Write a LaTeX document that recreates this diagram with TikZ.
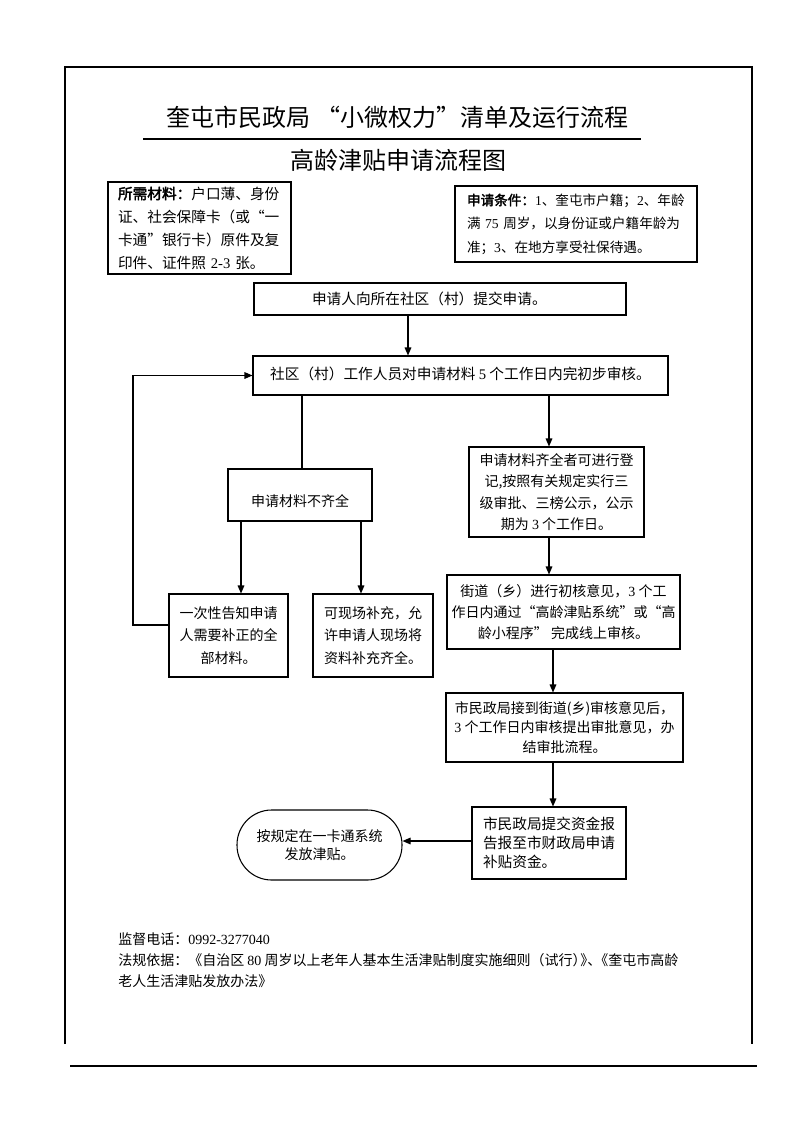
\documentclass[tikz,border=0pt]{standalone}
\usepackage{fontspec}
\setmainfont{Noto Sans CJK SC}[AutoFakeBold=2.5]
\newfontfamily\latn{Liberation Serif}
\newcommand\nm[1]{{\latn #1}}
\usetikzlibrary{arrows.meta}
\tikzset{
  box/.style 2 args={draw, line width=0.8pt, minimum width=#1*0.75pt, minimum height=#2*0.75pt, inner sep=0pt, align=center},
  fs/.style 2 args={font=\fontsize{#1}{#2}\selectfont},
  arr/.style={-{Triangle[width=5pt,length=6pt]}, line width=0.8pt},
  ln/.style={line width=0.8pt},
  frame/.style={line width=1pt},
}
\begin{document}
\begin{tikzpicture}[x=0.75pt,y=-0.75pt]
\useasboundingbox (0,0) rectangle (793,1122);
% page frame
\draw[frame] (65,1044) -- (65,67) -- (752,67) -- (752,1044);
\draw[frame] (70,1066) -- (757,1066);
% titles
\node (t1) at (397.5,117) {\fontsize{18}{20}\selectfont 奎屯市民政局 “小微权力”清单及运行流程};
\draw[ln] (143,139) -- (641,139);
\node (t2) at (398,160) {\fontsize{18}{20}\selectfont 高龄津贴申请流程图};
% top info boxes
\node[box={183}{92}, fs={11}{17.25}, align=left, text width=122.25pt] (m1) at (199.5,228)
  {{\bfseries 所需材料：}户口薄、身份\\证、社会保障卡（或“一\\卡通”银行卡）原件及复\\印件、证件照 \nm{2-3} 张。};
\node[box={242}{76}, fs={10.2}{17.6}, align=left, text width=163.5pt] (m2) at (576,224)
  {{\bfseries 申请条件：}\nm{1}、奎屯市户籍；\nm{2}、年龄\\满 \nm{75} 周岁，以身份证或户籍年龄为\\准；\nm{3}、在地方享受社保待遇。};
% flow boxes
\node[box={372}{32}, fs={11}{13}, align=left, text width=192pt] (b1) at (440,299)
  {申请人向所在社区（村）提交申请。};
\node[box={415}{39}, fs={11}{13}, text depth=4pt] (b2) at (460.5,375.5)
  {社区（村）工作人员对申请材料 \nm{5} 个工作日内完初步审核。};
\node[box={144}{52}, fs={10.5}{18}] (b3) at (300,495)
  {\mbox{}\\申请材料不齐全};
\node[box={119}{83}, fs={10.5}{17}] (b4) at (228.5,635.5)
  {一次性告知申请\\人需要补正的全\\部材料。};
\node[box={120}{83}, fs={10.5}{17}] (b5) at (373,635.5)
  {可现场补充，允\\许申请人现场将\\资料补充齐全。};
\node[box={175}{90}, fs={10.5}{16}] (b6) at (556.5,492)
  {申请材料齐全者可进行登\\记,按照有关规定实行三\\级审批、三榜公示，公示\\期为 \nm{3} 个工作日。};
\node[box={233}{74}, fs={10.5}{15.5}] (b7) at (563.5,612)
  {街道（乡）进行初核意见，\nm{3} 个工\\作日内通过“高龄津贴系统”或“高\\龄小程序” 完成线上审核。};
\node[box={237}{69}, fs={10.5}{14.5}] (b8) at (564.5,727.5)
  {市民政局接到街道(乡)审核意见后，\\\nm{3} 个工作日内审核提出审批意见，办\\结审批流程。};
\node[box={154}{72}, fs={11}{14.5}, align=left, text width=99pt] (b9) at (549,843)
  {市民政局提交资金报\\告报至市财政局申请\\补贴资金。};
\node[box={165}{70}, fs={10.5}{13.5}, rounded corners=26pt] (b10) at (319.5,845)
  {按规定在一卡通系统\\发放津贴。};
% connectors
\coordinate (k1) at (408,0);
\coordinate (k2) at (302,0);
\coordinate (k3) at (241,0);
\coordinate (k4) at (361,0);
\coordinate (k5) at (549,0);
\coordinate (k6) at (553,0);
\coordinate (k7) at (0,841);
\coordinate (lp) at (133,625);
\draw[arr] (b1.south -| k1) -- (b2.north -| k1);
\draw[ln] (b2.south -| k2) -- (b3.north -| k2);
\draw[arr] (b3.south -| k3) -- (b4.north -| k3);
\draw[arr] (b3.south -| k4) -- (b5.north -| k4);
\draw[arr] (b4.west |- lp) -- (lp) |- (b2.west);
\draw[arr] (b2.south -| k5) -- (b6.north -| k5);
\draw[arr] (b6.south -| k5) -- (b7.north -| k5);
\draw[arr] (b7.south -| k6) -- (b8.north -| k6);
\draw[arr] (b8.south -| k6) -- (b9.north -| k6);
\draw[arr] (b9.west |- k7) -- (b10.east |- k7);
% footer
\node[anchor=north west, align=left, fs={10.5}{16}, inner sep=0pt] (ft) at (118,932)
  {监督电话：\nm{0992-3277040}\\法规依据：《自治区 \nm{80} 周岁以上老年人基本生活津贴制度实施细则（试行）\kern-.45em》\kern-.5em、\kern-.5em《奎屯市高龄\\老人生活津贴发放办法》};
\end{tikzpicture}
\end{document}
